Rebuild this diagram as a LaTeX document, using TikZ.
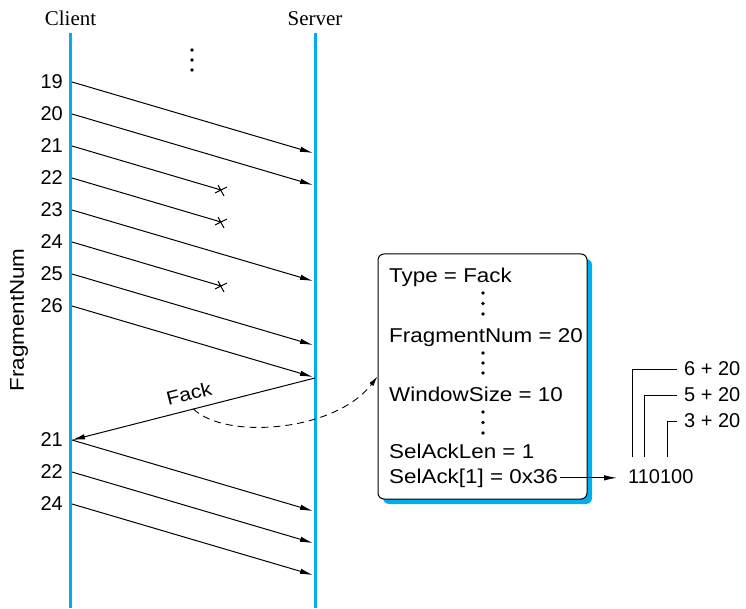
\documentclass[tikz,border=0pt]{standalone}
\usepackage{fontspec}
\setmainfont{Liberation Serif}
\setsansfont{Liberation Sans}[FakeStretch=1.12]
\newfontfamily\numfont{Liberation Sans}
\definecolor{LineBlue}{HTML}{00AEEF}
\usetikzlibrary{positioning,arrows.meta,shadows,calc}

\begin{document}
\begin{tikzpicture}[x=1pt, y=-1pt,
    font=\sffamily\fontsize{20}{24}\selectfont,
    lifeline/.style={LineBlue, line width=2.8pt},
    frag/.style={-{Latex[length=13pt,width=5.5pt]}, line width=1pt},
    lostfrag/.style={line width=1pt},
    numlabel/.style={anchor=east, inner xsep=9pt, inner ysep=0pt, font=\numfont\fontsize{20}{24}\selectfont},
    field/.style={anchor=base west, inner sep=0pt},
    bitlabel/.style={anchor=west, inner xsep=7pt, inner ysep=0pt, font=\numfont\fontsize{20}{24}\selectfont}]
  \useasboundingbox (0,0) rectangle (746,609);

  % client and server
  \node[font=\rmfamily\fontsize{21}{24}\selectfont, anchor=base] (client) at (70.5,25.5) {Client};
  \node[font=\rmfamily\fontsize{21}{24}\selectfont, anchor=base] (server) at (315,25.5) {Server};
  \draw[lifeline] (70.5,33) -- (70.5,608);
  \draw[lifeline] (315.3,33) -- (315.3,608);
  \node[rotate=90] (fnum) at (19,320) {FragmentNum};
  \fill (192,50) circle (1.8pt) (192,60) circle (1.8pt) (192,70) circle (1.8pt);

  % fragment numbers
  \node[numlabel] (n19) at (72,82) {19};
  \node[numlabel] (n20) at (72,114) {20};
  \node[numlabel] (n21) at (72,146) {21};
  \node[numlabel] (n22) at (72,178) {22};
  \node[numlabel] (n23) at (72,210) {23};
  \node[numlabel] (n24) at (72,242) {24};
  \node[numlabel] (n25) at (72,274) {25};
  \node[numlabel] (n26) at (72,306) {26};
  \node[numlabel] (r21) at (72,440) {21};
  \node[numlabel] (r22) at (72,472) {22};
  \node[numlabel] (r24) at (72,504) {24};

  % arrival points
  \coordinate (s19) at (313,153);
  \coordinate (s20) at (313,185);
  \coordinate (x21) at (221,190);
  \coordinate (x22) at (221,222);
  \coordinate (s23) at (313,281);
  \coordinate (x24) at (221,286);
  \coordinate (s25) at (313,345);
  \coordinate (s26) at (313,377);
  \coordinate (fk) at (315,378);
  \coordinate (t21) at (313,511);
  \coordinate (t22) at (313,543);
  \coordinate (t24) at (313,575);

  \draw[frag] (n19.east) -- (s19);
  \draw[frag] (n20.east) -- (s20);
  \draw[lostfrag] (n21.east) -- (x21);
  \draw[lostfrag] (n22.east) -- (x22);
  \draw[frag] (n23.east) -- (s23);
  \draw[lostfrag] (n24.east) -- (x24);
  \draw[frag] (n25.east) -- (s25);
  \draw[frag] (n26.east) -- (s26);
  \draw[lostfrag] (x21) +(-3,-5) -- +(3,6) +(-6,3) -- +(6,-3);
  \draw[lostfrag] (x22) +(-3,-5) -- +(3,6) +(-6,3) -- +(6,-3);
  \draw[lostfrag] (x24) +(-3,-5) -- +(3,6) +(-6,3) -- +(6,-3);

  % acknowledgement
  \draw[frag] (fk) -- (r21.east);
  \node[rotate=14.3, inner sep=0pt, font=\sffamily\fontsize{19}{22}\selectfont] (fack) at (189,393.5) {Fack};
  \draw[frag] (r21.east) -- (t21);
  \draw[frag] (r22.east) -- (t22);
  \draw[frag] (r24.east) -- (t24);

  % fack packet
  \node[draw, line width=1pt, fill=white, rounded corners=6pt, minimum width=209pt, minimum height=245pt,
    copy shadow={fill=LineBlue, draw=none, shadow xshift=5pt, shadow yshift=-5pt}] (pkt) at (482.5,376.5) {};
  \node[field] (ftype) at (389,283) {Type = Fack};
  \node[field] (ffrag) at (389,342) {FragmentNum = 20};
  \node[field] (fwin) at (389,401) {WindowSize = 10};
  \node[field] (flen) at (389,458.5) {SelAckLen = 1};
  \node[field] (fsel) at (389,483) {SelAck[1] = 0x36};
  \fill (483,293) circle (1.8pt) (483,303.5) circle (1.8pt) (483,314) circle (1.8pt);
  \fill (483,353) circle (1.8pt) (483,363) circle (1.8pt) (483,373) circle (1.8pt);
  \fill (483,412) circle (1.8pt) (483,422.5) circle (1.8pt) (483,433) circle (1.8pt);
  \draw[dashed, dash pattern=on 7pt off 5pt, line width=0.9pt, -{Latex[length=10pt,width=5pt]}]
    ($(fk)!0.5!(r21.east)$) .. controls (225,440) and (335,432) .. (pkt.west);

  % bits
  \node[field, font=\numfont\fontsize{20}{24}\selectfont] (bits) at (628,483) {110100};
  \draw[frag, shorten <=2pt, shorten >=11pt] (fsel.east) -- (fsel.east -| bits.west);
  \node[bitlabel] (b6) at (677,369) {6 + 20};
  \node[bitlabel] (b5) at (677,395) {5 + 20};
  \node[bitlabel] (b3) at (677,421) {3 + 20};
  \draw[lostfrag] (632.5,457) |- (b6.west);
  \draw[lostfrag] (644,457) |- (b5.west);
  \draw[lostfrag] (667,457) |- (b3.west);
\end{tikzpicture}
\end{document}
